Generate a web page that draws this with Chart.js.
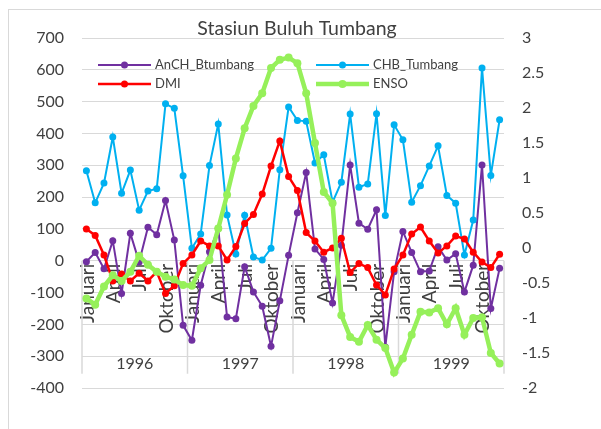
<!DOCTYPE html>
<html>
<head>
<meta charset="utf-8">
<script src="https://cdn.jsdelivr.net/npm/chart.js@4/dist/chart.umd.min.js"></script>
<style>
  html, body { margin: 0; padding: 0; background: #ffffff; }
  #wrap { width: 601px; height: 429px; position: relative; }
</style>
</head>
<body>
<div id="wrap"><canvas id="chart" width="601" height="429"></canvas></div>
<script>
// Monthly series, January 1996 – December 1999
const years = ['1996', '1997', '1998', '1999'];
const monthNames = ['Januari', 'Februari', 'Maret', 'April', 'Mei', 'Juni',
                    'Juli', 'Agustus', 'September', 'Oktober', 'November', 'Desember'];
const shownMonths = ['Januari', 'April', 'Juli', 'Oktober'];

// rainfall anomaly (mm), left axis
const anchBtumbang = [
  -3, 26, -25, 63, -103, 86, -4, 105, 82, 189, 65, -203,
  -250, -77, 28, 102, -177, -182, -19, -98, -143, -269, -126, 17,
  151, 277, 37, 4, -133, 49, 301, 118, 99, 160, -271, -35,
  92, 26, -35, -32, 44, 2, 22, -98, -14, 301, -150, -24
];
// monthly rainfall (mm), left axis
const chbTumbang = [
  283, 182, 244, 389, 212, 285, 159, 219, 226, 493, 479, 267,
  39, 84, 299, 430, 144, 21, 143, 12, 2, 39, 286, 483,
  441, 438, 307, 333, 184, 247, 461, 231, 241, 462, 142, 427,
  380, 184, 236, 298, 361, 205, 181, 18, 128, 606, 268, 443
];
// Dipole Mode Index, right axis
const dmi = [
  0.27, 0.18, -0.10, -0.47, -0.37, -0.47, -0.36, -0.47, -0.34, -0.65, -0.54, -0.22,
  -0.10, 0.10, 0.03, 0.03, -0.17, 0.02, 0.35, 0.48, 0.77, 1.17, 1.53, 1.02,
  0.82, 0.22, 0.10, -0.06, 0.00, 0.14, -0.35, -0.22, -0.28, -0.53, -0.67, -0.30,
  -0.10, 0.20, 0.30, 0.10, -0.07, 0.03, 0.17, 0.13, -0.06, -0.20, -0.28, -0.09
];
// ENSO index, right axis
const enso = [
  -0.72, -0.81, -0.55, -0.39, -0.47, -0.34, -0.11, -0.24, -0.34, -0.41, -0.45, -0.53,
  -0.54, -0.29, -0.17, 0.28, 0.76, 1.28, 1.71, 2.03, 2.21, 2.57, 2.69, 2.72,
  2.64, 2.21, 1.50, 0.80, 0.64, -0.96, -1.27, -1.34, -1.10, -1.31, -1.43, -1.78,
  -1.58, -1.24, -0.91, -0.92, -0.86, -1.09, -0.86, -1.24, -1.00, -0.99, -1.50, -1.65
];

const categories = [];
years.forEach(y => monthNames.forEach(m => categories.push(m + ' ' + y)));

const TEXT = '#404040';
const GRID = '#d9d9d9';
const FONT = 'Lato';

// month/year labels and year dividers drawn under the lines
const categoryAxis = {
  id: 'categoryAxis',
  beforeDatasetsDraw(chart) {
    const ctx = chart.ctx;
    const xs = chart.scales.x;
    const ys = chart.scales.y;
    const zeroY = ys.getPixelForValue(0);
    ctx.save();
    ctx.fillStyle = TEXT;
    ctx.font = '19px ' + FONT;
    categories.forEach((c, i) => {
      const m = monthNames[i % 12];
      if (!shownMonths.includes(m)) return;
      ctx.save();
      ctx.translate(xs.getPixelForValue(i) + 1, zeroY + 3);
      ctx.rotate(-Math.PI / 2);
      ctx.textAlign = 'right';
      ctx.textBaseline = 'middle';
      ctx.fillText(m, 0, 0);
      ctx.restore();
    });
    ctx.font = '16px ' + FONT;
    ctx.textAlign = 'center';
    ctx.textBaseline = 'middle';
    years.forEach((y, k) => {
      const x0 = xs.getPixelForValue(k * 12);
      const x1 = xs.getPixelForValue(k * 12 + 11);
      ctx.fillText(y, (x0 + x1) / 2, zeroY + 103);
    });
    ctx.strokeStyle = GRID;
    ctx.lineWidth = 1.5;
    for (let k = 0; k <= years.length; k++) {
      let x;
      if (k === 0) x = chart.chartArea.left;
      else if (k === years.length) x = chart.chartArea.right;
      else x = (xs.getPixelForValue(k * 12 - 1) + xs.getPixelForValue(k * 12)) / 2;
      ctx.beginPath();
      ctx.moveTo(x, zeroY);
      ctx.lineTo(x, zeroY + 113);
      ctx.stroke();
    }
    ctx.restore();
  }
};

// frame, title and two-column legend
const decorations = {
  id: 'decorations',
  afterDraw(chart) {
    const ctx = chart.ctx;
    ctx.save();
    ctx.strokeStyle = GRID;
    ctx.lineWidth = 1;
    ctx.strokeRect(8.5, 9.5, 800, 600);

    ctx.fillStyle = TEXT;
    ctx.font = '19.5px ' + FONT;
    ctx.textAlign = 'center';
    ctx.textBaseline = 'middle';
    ctx.fillText('Stasiun Buluh Tumbang', 297, 29);

    const slots = [[98, 65], [316, 65], [98, 84], [316, 84]];
    chart.data.datasets.forEach((ds, i) => {
      const [lx, ly] = slots[i];
      ctx.strokeStyle = ds.borderColor;
      ctx.lineWidth = ds.borderWidth;
      ctx.beginPath();
      ctx.moveTo(lx, ly);
      ctx.lineTo(lx + 53, ly);
      ctx.stroke();
      ctx.fillStyle = ds.pointBackgroundColor;
      ctx.beginPath();
      ctx.arc(lx + 26.5, ly, ds.pointRadius, 0, Math.PI * 2);
      ctx.fill();
      ctx.fillStyle = TEXT;
      ctx.font = '13px ' + FONT;
      ctx.textAlign = 'left';
      ctx.textBaseline = 'middle';
      ctx.fillText(ds.label, lx + 57, ly);
    });
    ctx.restore();
  }
};

function series(label, data, color, width, radius, axis, order) {
  return {
    label, data, yAxisID: axis, order,
    borderColor: color, backgroundColor: color,
    pointBackgroundColor: color, pointBorderColor: color,
    borderWidth: width, pointRadius: radius, pointBorderWidth: 0,
    tension: 0, fill: false
  };
}

new Chart(document.getElementById('chart'), {
  type: 'line',
  data: {
    labels: categories,
    datasets: [
      series('AnCH_Btumbang', anchBtumbang, '#7030A0', 2, 3.5, 'y', 4),
      series('CHB_Tumbang', chbTumbang, '#00B0F0', 2, 3.5, 'y', 3),
      series('DMI', dmi, '#FF0000', 2.5, 3.5, 'y1', 2),
      series('ENSO', enso, '#96F05A', 4.5, 4, 'y1', 1)
    ]
  },
  options: {
    responsive: false,
    devicePixelRatio: 1,
    animation: false,
    layout: { padding: { left: 0, right: 0, top: 38, bottom: 41 } },
    plugins: { legend: { display: false }, tooltip: { enabled: false }, title: { display: false } },
    scales: {
      x: { display: false, offset: true },
      y: {
        position: 'left', min: -400, max: 700,
        ticks: { stepSize: 100, padding: 18, color: TEXT, font: { family: FONT, size: 16 } },
        grid: { color: GRID, lineWidth: 1, drawTicks: false },
        border: { display: false },
        afterFit(s) { s.width = 82; }
      },
      y1: {
        position: 'right', min: -2, max: 3,
        ticks: {
          stepSize: 0.5, padding: 18, color: TEXT, font: { family: FONT, size: 16 },
          callback: v => String(Math.round(v * 10) / 10)
        },
        grid: { display: false, drawTicks: false },
        border: { display: false },
        afterFit(s) { s.width = 97; }
      }
    }
  },
  plugins: [categoryAxis, decorations]
});
</script>
</body>
</html>
